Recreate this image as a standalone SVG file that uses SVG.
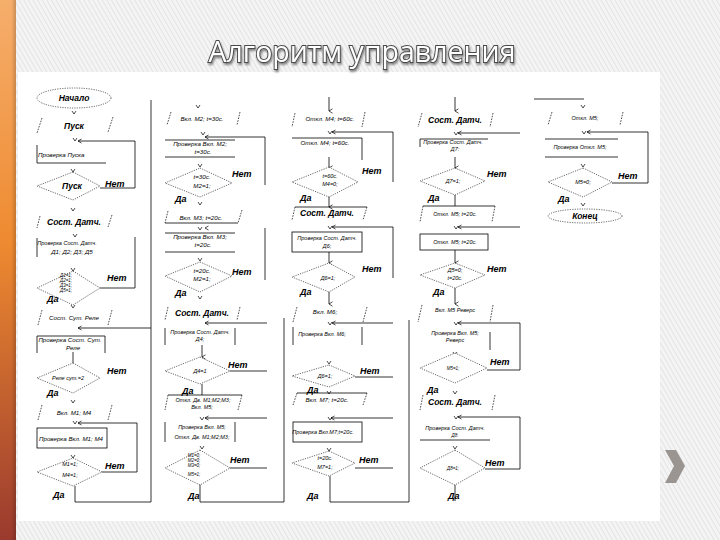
<svg xmlns="http://www.w3.org/2000/svg" xmlns:xlink="http://www.w3.org/1999/xlink" width="720" height="540" viewBox="0 0 720 540">
<defs>
<pattern id="bgp" width="4" height="4" patternUnits="userSpaceOnUse" patternTransform="rotate(-30)">
<rect width="4" height="4" fill="#F4F4F4"/>
<rect width="1" height="4" fill="#E3E3E3"/>
</pattern>
<linearGradient id="bar" x1="0" y1="0" x2="0" y2="1">
<stop offset="0" stop-color="#F6AE6C"/>
<stop offset="0.45" stop-color="#EE8A30"/>
<stop offset="1" stop-color="#9A3A2E"/>
</linearGradient>
<linearGradient id="barh" x1="0" y1="0" x2="1" y2="0">
<stop offset="0" stop-color="#000" stop-opacity="0"/>
<stop offset="0.7" stop-color="#000" stop-opacity="0"/>
<stop offset="1" stop-color="#000" stop-opacity="0.18"/>
</linearGradient>
<filter id="sh" x="-10%" y="-30%" width="120%" height="160%">
<feDropShadow dx="1" dy="2" stdDeviation="1" flood-color="#000" flood-opacity="0.45"/>
</filter>
<marker id="ah" markerWidth="6" markerHeight="6" refX="3" refY="5" orient="auto" markerUnits="userSpaceOnUse">
<path d="M0.8,1.5 L3,5 L5.2,1.5" fill="none" stroke="#000" stroke-width="0.7"/>
</marker>
<path id="cv" d="M-2,-3 L0,0 L2,-3" fill="none" stroke="#000" stroke-width="0.7"/>
<path id="la" d="M3.5,-2 L0,0 L3.5,2" fill="none" stroke="#000" stroke-width="0.7"/>
<style>
.ln{stroke:#000;stroke-width:0.8;fill:none}
.dl{stroke:#000;stroke-width:0.7;stroke-dasharray:1.6 1.2;fill:none}
.dg{stroke:#000;stroke-width:0.6;stroke-dasharray:1.2 1.2;fill:#fff}
.t{font-family:"Liberation Sans",Arial,sans-serif;font-style:italic;fill:#000;text-anchor:middle}
.s4{font-size:4.5px}
.s5{font-size:5.5px}
.s6{font-size:6.2px}
.s8{font-size:8.5px;font-weight:bold}
.lb{font-family:"Liberation Sans",Arial,sans-serif;font-style:italic;font-weight:bold;font-size:9px;fill:#000}
</style>
</defs>

<rect width="720" height="540" fill="url(#bgp)"/>
<rect x="0" y="0" width="16" height="540" fill="url(#bar)"/>
<rect x="0" y="0" width="16" height="540" fill="url(#barh)"/>
<rect x="18" y="72" width="642" height="449" fill="#FFFFFF"/>
<text x="362" y="62" font-family="'Open Sans','Noto Sans',sans-serif" font-size="30" fill="#FFFFFF" stroke="#4A4A4A" stroke-width="2" paint-order="stroke" text-anchor="middle" textLength="307" lengthAdjust="spacingAndGlyphs" filter="url(#sh)">Алгоритм управления</text>
<polygon points="665,450 676,450 685,466 676,483 665,483 674,466" fill="#9B9591"/>

<g id="connectors">
<!-- column 1 -->
<use href="#cv" x="74" y="114"/>
<use href="#cv" x="75" y="141"/>
<use href="#la" x="78" y="141"/>
<path class="ln" d="M78,141 H135 V188 H100"/>
<use href="#cv" x="73" y="172"/>
<use href="#cv" x="73" y="211"/>
<use href="#cv" x="75" y="237"/>
<path class="ln" d="M135,237 V288 H100"/>
<use href="#cv" x="73" y="271"/>
<use href="#cv" x="73" y="308"/>
<use href="#la" x="78" y="328"/>
<path class="ln" d="M78,328 H151"/>
<path class="ln" d="M73,352 V363"/>
<use href="#cv" x="73" y="403"/>
<use href="#la" x="78" y="423"/>
<use href="#cv" x="75" y="424"/>
<path class="ln" d="M78,423 H137 V472 H102"/>
<use href="#cv" x="73" y="458"/>
<path class="ln" d="M75,486 V502 H151 V100"/>
<!-- column 2 -->
<use href="#cv" x="198" y="108"/>
<use href="#cv" x="203" y="135"/>
<use href="#la" x="205" y="137"/>
<path class="ln" d="M205,137 H265 V185"/>
<use href="#cv" x="200" y="167"/>
<use href="#cv" x="200" y="205"/>
<use href="#cv" x="200" y="230"/>
<use href="#la" x="205" y="228"/>
<path class="ln" d="M265,228 V280"/>
<use href="#cv" x="200" y="261"/>
<use href="#cv" x="200" y="299"/>
<use href="#la" x="205" y="323"/>
<path class="ln" d="M205,323 H267"/>
<path class="ln" d="M202,345 V357" marker-end="url(#ah)"/>
<path class="ln" d="M230,371 H267"/>
<path class="ln" d="M202,384 V395"/>
<use href="#la" x="205" y="418"/>
<use href="#cv" x="202" y="420"/>
<path class="ln" d="M205,418 H267"/>
<use href="#cv" x="202" y="449"/>
<path class="ln" d="M230,468 H267"/>
<path class="ln" d="M200,482 V502 H284 V318"/>
<!-- column 3 -->
<path class="ln" d="M329,97 V111" marker-end="url(#ah)"/>
<use href="#la" x="332" y="132"/>
<use href="#cv" x="330" y="134"/>
<path class="ln" d="M332,132 H393 V182"/>
<path class="ln" d="M329,157 V168" marker-end="url(#ah)"/>
<path class="ln" d="M329,196 V207" marker-end="url(#ah)"/>
<use href="#la" x="332" y="227"/>
<use href="#cv" x="330" y="229"/>
<path class="ln" d="M332,227 H393 V278"/>
<path class="ln" d="M329,252 V263" marker-end="url(#ah)"/>
<path class="ln" d="M329,292 V304" marker-end="url(#ah)"/>
<use href="#la" x="332" y="323"/>
<use href="#cv" x="330" y="325"/>
<path class="ln" d="M332,323 H393"/>
<use href="#cv" x="329" y="364"/>
<path class="ln" d="M355,377 H393"/>
<use href="#cv" x="329" y="394"/>
<use href="#la" x="331" y="418"/>
<use href="#cv" x="330" y="420"/>
<path class="ln" d="M331,418 H393"/>
<use href="#cv" x="329" y="451"/>
<path class="ln" d="M355,468 H393"/>
<path class="ln" d="M330,476 V502 H409 V320"/>
<!-- column 4 -->
<path class="ln" d="M455,97 V111" marker-end="url(#ah)"/>
<use href="#la" x="458" y="133"/>
<use href="#cv" x="456" y="135"/>
<path class="ln" d="M458,133 H520"/>
<path class="ln" d="M455,157 V168" marker-end="url(#ah)"/>
<path class="ln" d="M455,195 V206"/>
<use href="#la" x="458" y="227"/>
<use href="#cv" x="456" y="229"/>
<path class="ln" d="M458,227 H520"/>
<path class="ln" d="M455,250 V263" marker-end="url(#ah)"/>
<path class="ln" d="M455,288 V304" marker-end="url(#ah)"/>
<use href="#la" x="458" y="323"/>
<use href="#cv" x="456" y="325"/>
<path class="ln" d="M458,323 H520 V370 H487"/>
<use href="#cv" x="455" y="355"/>
<use href="#cv" x="455" y="394"/>
<use href="#la" x="458" y="417"/>
<use href="#cv" x="456" y="419"/>
<path class="ln" d="M458,417 H520 V469 H485"/>
<use href="#cv" x="455" y="449"/>
<path class="ln" d="M455,485 V501"/>
<!-- column 5 -->
<path class="ln" d="M534,99 H584"/>
<use href="#cv" x="583" y="108"/>
<use href="#la" x="587" y="132"/>
<use href="#cv" x="584" y="134"/>
<path class="ln" d="M587,132 H648 V183 H612"/>
<use href="#cv" x="583" y="167"/>
<use href="#cv" x="583" y="206"/>
</g>

<!-- Column 1 -->
<g id="n-start"><ellipse class="dg" cx="74" cy="98" rx="37" ry="10"/><text class="t s8" x="74" y="101">Начало</text></g>
<g id="n-pusk"><path class="dl" d="M42,118 L37,133 M113,117 L108,132"/><text class="t s8" x="74" y="129">Пуск</text></g>
<g id="n-check-pusk"><path class="ln" d="M37,145 V163 H106"/><text class="t s6" x="38" y="157" style="text-anchor:start">Проверка Пуска</text></g>
<g id="n-d-pusk"><polygon class="dg" points="73,172 100,186 73,200 37,186"/><text class="t s8" x="72" y="189">Пуск</text><text class="lb" x="105" y="187">Нет</text></g>
<g id="n-sost1"><path class="dl" d="M40,216 L37,228 M112,215 L108,227"/><text class="t s8" x="74" y="225">Сост. Датч.</text></g>
<g id="n-check-d1"><path class="ln" d="M37,238 V257"/><text class="t s5" x="67" y="245">Проверка Сост. Датч.</text><text class="t s6" x="72" y="254">Д1; Д2; Д3; Д5</text></g>
<g id="n-d-d1"><polygon class="dg" points="73,271 100,288 73,305 37,288"/><text class="t s4" x="66" y="277">Д1=1;</text><text class="t s4" x="66" y="282">Д2=1;</text><text class="t s4" x="66" y="287">Д3=1;</text><text class="t s4" x="66" y="292">Д5=1;</text><text class="lb" x="107" y="281">Нет</text><text class="lb" x="47" y="302">Да</text></g>
<g id="n-rele"><path class="dl" d="M42,310 L38,325 M112,310 L108,325"/><text class="t s6" x="74" y="320">Сост. Сут. Реле</text></g>
<g id="n-check-rele"><path class="ln" d="M37,353 V336 H105 V353"/><text class="t s6" x="70" y="342">Проверка Сост. Сут.</text><text class="t s6" x="73" y="350">Реле</text></g>
<g id="n-d-rele"><polygon class="dg" points="73,363 100,378 73,393 37,378"/><text class="t s5" x="68" y="380">Реле сут.=2</text><text class="lb" x="107" y="374">Нет</text><text class="lb" x="47" y="396">Да</text></g>
<g id="n-m1m4"><path class="dl" d="M42,405 L38,420 M112,405 L108,420"/><text class="t s6" x="74" y="415">Вкл. М1; М4</text></g>
<g id="n-check-m1m4"><rect class="ln" x="37" y="428" width="70" height="20"/><text class="t s6" x="71" y="441">Проверка Вкл. М1; М4</text></g>
<g id="n-d-m1m4"><polygon class="dg" points="73,458 102,472 73,486 37,472"/><text class="t s5" x="70" y="466">М1=1;</text><text class="t s5" x="70" y="477">М4=1;</text><text class="lb" x="105" y="469">Нет</text><text class="lb" x="53" y="498">Да</text></g>

<!-- Column 2 -->
<g id="n-m2"><path class="dl" d="M171,112 L167,125 M240,112 L237,125"/><text class="t s6" x="202" y="121">Вкл. М2; t=30c.</text></g>
<g id="n-check-m2"><path class="ln" d="M165,140 H235 M165,157 H235"/><text class="t s6" x="200" y="146">Проверка Вкл. М2;</text><text class="t s6" x="203" y="154">t=30c.</text></g>
<g id="n-d-m2"><polygon class="dg" points="200,168 232,183 200,197 165,183"/><text class="t s6" x="202" y="179">t=30c.</text><text class="t s6" x="202" y="188">M2=1;</text><text class="lb" x="232" y="177">Нет</text><text class="lb" x="175" y="202">Да</text></g>
<g id="n-m3"><path class="dl" d="M168,211 L165,223 M242,210 L238,223"/><path class="ln" d="M165,223 H238"/><text class="t s6" x="201" y="220">Вкл. М3; t=20c.</text></g>
<g id="n-check-m3"><path class="ln" d="M165,233 H235 M165,252 H235"/><text class="t s6" x="200" y="239">Проверка Вкл. М3;</text><text class="t s6" x="203" y="247">t=20c.</text></g>
<g id="n-d-m3"><polygon class="dg" points="200,262 232,276 200,292 165,276"/><text class="t s6" x="202" y="273">t=20c.</text><text class="t s6" x="202" y="281">M2=1;</text><text class="lb" x="232" y="275">Нет</text><text class="lb" x="175" y="296">Да</text></g>
<g id="n-sost2"><path class="dl" d="M168,307 L165,320 M240,307 L237,320"/><text class="t s8" x="202" y="316">Сост. Датч.</text></g>
<g id="n-check-d4"><path class="ln" d="M165,328 V345 M235,328 V345"/><text class="t s5" x="200" y="334">Проверка Сост. Датч.</text><text class="t s5" x="200" y="341">Д4;</text></g>
<g id="n-d-d4"><polygon class="dg" points="200,357 230,371 200,384 165,371"/><text class="t s5" x="200" y="373">Д4=1</text><text class="lb" x="228" y="368">Нет</text><text class="lb" x="182" y="394">Да</text></g>
<g id="n-off123"><path class="dl" d="M168,395 L165,410 M242,395 L238,410"/><path class="ln" d="M168,395 H242"/><text class="t s5" x="203" y="402">Откл. Дв. М1;М2;М3;</text><text class="t s5" x="202" y="409">Вкл. М5;</text></g>
<g id="n-check-m5"><path class="ln" d="M165,422 V442 M235,422 V442"/><text class="t s5" x="202" y="429">Проверка Вкл. М5;</text><text class="t s5" x="202" y="439">Откл. Дв. М1;М2;М3;</text></g>
<g id="n-d-m5"><polygon class="dg" points="200,450 230,468 200,485 165,468"/><text class="t s4" x="194" y="457">М1=0;</text><text class="t s4" x="194" y="462">М2=0;</text><text class="t s4" x="194" y="467">М3=0;</text><text class="t s4" x="194" y="476">М5=1;</text><text class="lb" x="230" y="463">Нет</text><text class="lb" x="188" y="499">Да</text></g>

<!-- Column 3 -->
<g id="n-m4off"><path class="dl" d="M295,113 L292,127 M365,112 L362,127"/><text class="t s6" x="330" y="121">Откл. М4; t=60c.</text></g>
<g id="n-check-m4off"><path class="ln" d="M292,138 H362 V160"/><text class="t s6" x="325" y="145">Откл. М4; t=60c.</text></g>
<g id="n-d-m4off"><polygon class="dg" points="329,167 358,182 329,197 292,182"/><text class="t s5" x="330" y="178">t=60c.</text><text class="t s5" x="330" y="186">М4=0;</text><text class="lb" x="362" y="174">Нет</text><text class="lb" x="300" y="201">Да</text></g>
<g id="n-sost3"><path class="dl" d="M295,207 L292,220 M367,207 L363,220"/><path class="ln" d="M295,207 H367"/><text class="t s8" x="327" y="216">Сост. Датч.</text></g>
<g id="n-check-d6"><rect class="ln" x="292" y="232" width="70" height="20"/><text class="t s5" x="327" y="240">Проверка Сост. Датч.</text><text class="t s5" x="327" y="248">Д6;</text></g>
<g id="n-d-d6"><polygon class="dg" points="329,263 355,277 329,292 292,277"/><text class="t s5" x="328" y="280">Д6=1;</text><text class="lb" x="362" y="272">Нет</text><text class="lb" x="300" y="295">Да</text></g>
<g id="n-m6"><path class="dl" d="M297,307 L293,322 M367,307 L363,322"/><text class="t s6" x="325" y="314">Вкл. М6;</text></g>
<g id="n-check-m6"><path class="ln" d="M293,327 V345 M362,327 V345"/><text class="t s5" x="322" y="336">Проверка Вкл. М6;</text></g>
<g id="n-d-m6"><polygon class="dg" points="329,365 355,376 329,387 292,376"/><text class="t s5" x="325" y="378">Д6=1;</text><text class="lb" x="360" y="374">Нет</text><text class="lb" x="307" y="393">Да</text></g>
<g id="n-m7"><path class="dl" d="M297,393 L293,405 M367,393 L363,405"/><path class="ln" d="M297,393 H367"/><text class="t s6" x="327" y="402">Вкл. М7; t=20c.</text></g>
<g id="n-check-m7"><rect class="ln" x="293" y="422" width="69" height="20"/><text class="t s5" x="323" y="434">Проверка Вкл.М7;t=20c.</text></g>
<g id="n-d-m7"><polygon class="dg" points="329,451 355,463 329,476 292,463"/><text class="t s5" x="325" y="460">t=20c.</text><text class="t s5" x="325" y="469">М7=1;</text><text class="lb" x="359" y="463">Нет</text><text class="lb" x="307" y="499">Да</text></g>

<!-- Column 4 -->
<g id="n-sost4"><path class="dl" d="M422,113 L418,127 M493,113 L490,127"/><text class="t s8" x="455" y="123">Сост. Датч.</text></g>
<g id="n-check-d7"><path class="ln" d="M420,147 V139 H488"/><text class="t s5" x="453" y="144">Проверка Сост. Датч.</text><text class="t s5" x="455" y="151">Д7:</text></g>
<g id="n-d-d7"><polygon class="dg" points="455,168 485,181 455,195 420,181"/><text class="t s5" x="453" y="183">Д7=1;</text><text class="lb" x="487" y="177">Нет</text><text class="lb" x="428" y="201">Да</text></g>
<g id="n-m5off"><path class="dl" d="M423,206 L420,222 M495,206 L492,222"/><path class="ln" d="M423,206 H495"/><text class="t s5" x="455" y="216">Откл. М5; t=20c.</text></g>
<g id="n-check-m5off"><rect class="ln" x="420" y="234" width="68" height="16"/><text class="t s5" x="455" y="244">Откл. М5; t=20c.</text></g>
<g id="n-d-d5"><polygon class="dg" points="455,263 485,275 455,288 420,275"/><text class="t s5" x="455" y="272">Д5=0;</text><text class="t s5" x="455" y="280">t=20c.</text><text class="lb" x="487" y="272">Нет</text><text class="lb" x="433" y="295">Да</text></g>
<g id="n-rev"><path class="dl" d="M422,305 L418,322 M493,305 L490,322"/><text class="t s5" x="455" y="312">Вкл. М5 Реверс</text></g>
<g id="n-check-rev"><path class="ln" d="M490,332 V350"/><text class="t s5" x="455" y="335">Проверка Вкл. М5;</text><text class="t s5" x="455" y="342">Реверс</text></g>
<g id="n-d-rev"><polygon class="dg" points="455,353 487,368 455,383 420,368"/><text class="t s4" x="453" y="370">М5=1;</text><text class="lb" x="490" y="365">Нет</text><text class="lb" x="427" y="393">Да</text></g>
<g id="n-sost5"><path class="dl" d="M423,395 L420,410 M495,395 L492,410"/><text class="t s8" x="455" y="405">Сост. Датч.</text></g>
<g id="n-check-d8"><path class="ln" d="M420,440 H490"/><text class="t s5" x="455" y="430">Проверка Сост. Датч.</text><text class="t s4" x="455" y="437">Д8:</text></g>
<g id="n-d-d8"><polygon class="dg" points="455,450 485,468 455,485 420,468"/><text class="t s4" x="453" y="470">Д8=1;</text><text class="lb" x="485" y="466">Нет</text><text class="lb" x="448" y="499">Да</text></g>

<!-- Column 5 -->
<g id="n-m5stop"><path class="dl" d="M552,112 L548,125 M623,112 L620,125"/><text class="t s5" x="585" y="120">Откл. М5;</text></g>
<g id="n-check-m5stop"><path class="ln" d="M545,139 H618 M545,157 H618"/><text class="t s5" x="580" y="149">Проверка Откл. М5;</text></g>
<g id="n-d-m5stop"><polygon class="dg" points="583,168 612,182 583,197 548,182"/><text class="t s5" x="583" y="184">М5=0;</text><text class="lb" x="618" y="179">Нет</text><text class="lb" x="558" y="202">Да</text></g>
<g id="n-end"><ellipse class="dg" cx="585" cy="216" rx="37" ry="7"/><text class="t s8" x="585" y="219">Конец</text></g>
</svg>
